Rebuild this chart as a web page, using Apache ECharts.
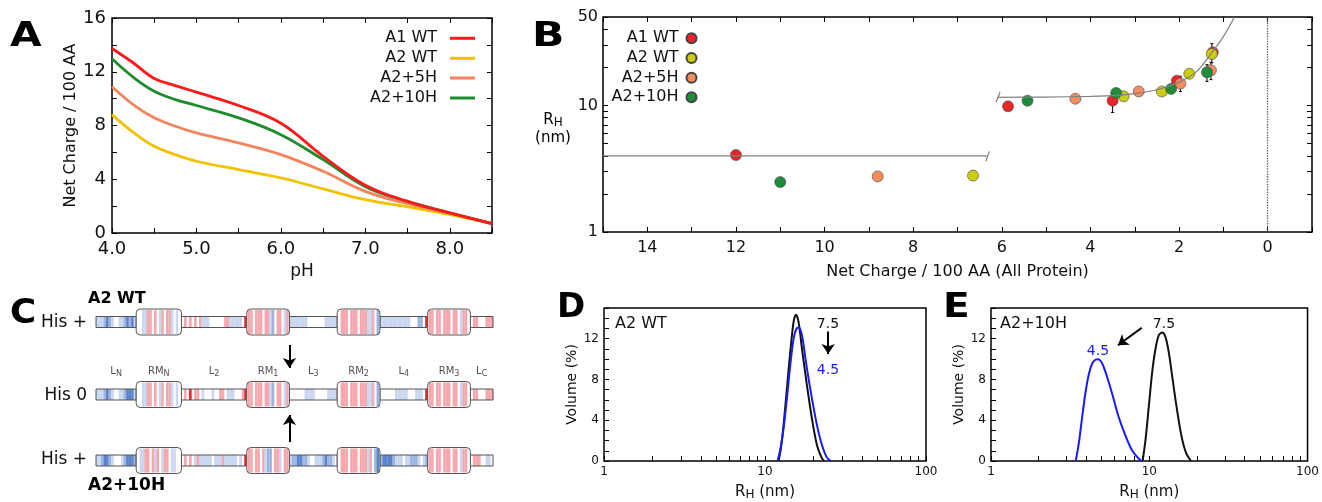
<!DOCTYPE html>
<html><head><meta charset="utf-8">
<script src="https://cdn.jsdelivr.net/npm/echarts@6/dist/echarts.min.js"></script>
<style>html,body{margin:0;padding:0;background:#fff}#c{width:1322px;height:502px}</style>
</head><body><div id="c"></div>
<script>
const FONT = 'DejaVu Sans, Verdana, sans-serif';
const BOLDF = 'DejaVu Sans, Arial, sans-serif';

// ---------- Panel A : net charge vs pH ----------
const pH = [4.0, 4.25, 4.5, 4.75, 5.0, 5.5, 6.0, 6.5, 7.0, 7.5, 8.0, 8.5];
const chargeA1WT   = [13.73, 12.67, 11.5, 10.97, 10.48, 9.49, 8.17, 5.71, 3.56, 2.35, 1.49, 0.7];
const chargeA2WT   = [8.81, 7.5, 6.45, 5.83, 5.34, 4.72, 4.1, 3.28, 2.48, 1.94, 1.37, 0.7];
const chargeA2_5H  = [10.88, 9.56, 8.57, 7.94, 7.45, 6.7, 5.83, 4.59, 3.1, 2.18, 1.47, 0.7];
const chargeA2_10H = [12.96, 11.6, 10.55, 9.93, 9.49, 8.57, 7.32, 5.46, 3.45, 2.35, 1.5, 0.7];
const namesA = ['A1 WT', 'A2 WT', 'A2+5H', 'A2+10H'];
const colorsA = ['#ff1a1a', '#f2c200', '#f5845c', '#1f8a2e'];

// ---------- Panel B : R_H vs net charge ----------
const qA1WT = [12.0, 5.86, 3.50, 2.05, 1.24];
const rA1WT = [4.06, 9.84, 10.9, 15.7, 26.3];
const loA1WT = [3.9, 9.3, 8.8, 15.0, 25.3];
const hiA1WT = [4.2, 10.4, 12.9, 16.6, 27.3];
const qA2WT = [6.65, 3.25, 2.39, 1.77, 1.26];
const rA2WT = [2.79, 11.8, 12.9, 17.8, 25.5];
const loA2WT = [2.75, 11.1, 12.4, 17.3, 21.7];
const hiA2WT = [2.83, 12.6, 13.4, 18.3, 30.8];
const qA2_5H = [8.8, 4.34, 2.91, 1.97, 1.28];
const rA2_5H = [2.75, 11.3, 12.9, 14.9, 18.95];
const loA2_5H = [2.68, 11.1, 12.2, 12.9, 16.0];
const hiA2_5H = [2.83, 11.5, 13.6, 17.0, 21.9];
const qA2_10H = [11.0, 5.42, 3.42, 2.18, 1.37];
const rA2_10H = [2.48, 10.9, 12.56, 13.5, 18.3];
const loA2_10H = [2.40, 10.3, 12.3, 13.0, 15.5];
const hiA2_10H = [2.56, 11.5, 12.8, 14.1, 21.0];
const colorsB = ['#e8262a', '#cccc10', '#f58c5c', '#1f8c3c'];
// fitted guide lines
const fitLowQ = [15, 6.32];
const fitLowR = [4.0, 4.0];
const fitHighQ = [6.1, 5, 4, 3.4, 3, 2.5, 2, 1.6, 1.25, 1.0, 0.75];
const fitHighR = [11.6, 11.65, 11.8, 12.0, 12.4, 13.3, 15.3, 18.6, 26.5, 35, 50];
const breakLowQ = [6.36, 6.28];
const breakLowR = [3.62, 4.34];
const breakHighQ = [6.13, 6.04];
const breakHighR = [10.6, 12.7];
const bLogTicks = [1,2,3,4,5,6,7,8,9,10,20,30,40,50];
const bLogLabels = [1, 10, 50];

// ---------- Panel C : sequence schematic ----------
const segMain = ['L','RM','L','RM','L','RM','L','RM','L'];
const segSub  = ['N','N','2','1','3','2','4','3','C'];
const segLens = [16, 18, 26, 17, 19, 17, 19, 17, 9];
const segIsRM = [0, 1, 0, 1, 0, 1, 0, 1, 0];
const rowLabels = ['His +', 'His 0', 'His +'];
const rowPos = [22, 94.5, 160.5];
const labelRowPos = 71.7;
const stripeRow0 = ['lllmdmlwwllmdmdl','wwllppwpwlpwpplwlw','wpwpwpwplllwwwwwwpplllllwr','ppwpppwpplmwppwlp','lllllllwwwwwwwlllll','wpppwpppwpppllpwm','llllllllllllwwwmmwr','ppwppwpppwppwlppw','wppwwwppp'];
const stripeRow1 = ['lllmdmlwwllmdddl','wwllppwpwlpwpplwlw','wpwrwppwlwwwlwwppwlllwwwpr','ppwpppwpplmwppwlp','wwwwwwllllwwwwwllll','wpppwpppwpppllpwm','wwwwwwlllllwwwlllwr','ppwppwpppwppwlppw','wppwwwppp'];
const stripeRow2 = ['llmddmlwwwlmdddm','wllppwplpwlppwllww','wpwpwlplllllwlllplllllwlwr','ppwppwplmmwpplwpp','lmmddmmlwwlllmdmmlw','wpppwpppwppplpwmd','mddddmlllwllmmmlwlm','ppwppwpppwppwlppw','wpppwwllw'];
const stripeRows = [stripeRow0, stripeRow1, stripeRow2];
const stripeColors = {w:'#ffffff', l:'#c9d7f0', m:'#9db4e0', d:'#5b83c9', p:'#f6a8ae', r:'#e8262b'};
const arrowDown = [[77, 45], [77, 68]];
const arrowUp = [[77, 142], [77, 115]];

// ---------- Panel D / E : DLS distributions ----------
const dBlackR = [12.14,12.55,13.04,13.68,14.35,15.05,15.56,16.16,16.96,18.21,19.56,21.02,22.58,23.34];
const dBlackV = [0,1.24,3.52,7.11,10.7,13.64,14.35,13.64,11.03,7.44,4.18,1.57,0.26,0];
const dBlueR = [11.96,12.43,13.04,13.68,14.35,15.05,15.63,16.16,16.96,18.21,19.56,21.02,22.58,24.26,25.69];
const dBlueV = [0,1.08,3.2,6.14,9.4,12.0,12.92,13.08,12.33,9.07,6.14,3.52,1.57,0.33,0];
const eBlueR = [3.43,3.60,3.78,3.96,4.16,4.36,4.58,4.75,5.04,5.41,5.82,6.40,7.05,7.76,8.54,8.96];
const eBlueV = [0,1.9,4.5,6.79,8.58,9.56,9.95,9.98,9.56,8.26,6.62,4.34,2.54,1.08,0.26,0];
const eBlackR = [9.08,9.49,9.95,10.44,10.96,11.49,12.06,12.65,13.27,13.93,14.82,15.93,17.12,18.39];
const eBlackV = [0,2.22,5.48,8.75,11.03,12.33,12.59,12.17,10.7,8.41,5.48,2.54,0.75,0];
const dlsTicks = [1,2,3,4,5,6,7,8,9,10,20,30,40,50,60,70,80,90,100];
const dlsLabels = [1, 10, 100];
const dArrow = [[24.7, 12.7], [24.7, 10.5]];
const eArrow = [[8.95, 13.05], [6.34, 11.35]];

// ---------- helpers ----------
const zip = (a, b) => a.map((v, i) => [v, b[i]]);
const zip3 = (a, b, c) => a.map((v, i) => [v, b[i], c[i]]);
const tickStyle = {inside: true, length: 5, lineStyle: {color: '#000', width: 1}};
const noLine = {show: false, onZero: false};
function txt(x, y, text, font, fill, align, extra) {
  return Object.assign({type: 'text', x: x, y: y, silent: true, z: 100,
    style: {text: text, font: font, fill: fill || '#111', align: align || 'left', textAlign: align || 'left',
            verticalAlign: 'middle', textVerticalAlign: 'middle'}}, extra || {});
}
function renderErr(params, api) {
  const x = api.value(0), lo = api.value(1), hi = api.value(2);
  const a = api.coord([x, lo]), b = api.coord([x, hi]);
  const st = {stroke: '#000', lineWidth: 1};
  return {type: 'group', children: [
    {type: 'line', shape: {x1: a[0], y1: a[1], x2: b[0], y2: b[1]}, style: st},
    {type: 'line', shape: {x1: a[0] - 1.5, y1: a[1], x2: a[0] + 1.5, y2: a[1]}, style: st},
    {type: 'line', shape: {x1: b[0] - 1.5, y1: b[1], x2: b[0] + 1.5, y2: b[1]}, style: st}
  ]};
}
// segments data for panel C
const segStart = [];
segLens.reduce((acc, l, i) => { segStart[i] = acc; return acc + l; }, 0);
const segData = [];
[0, 1].forEach(rm => {
  for (let r = 0; r < 3; r++) for (let g = 0; g < segLens.length; g++) {
    if (segIsRM[g] === rm) segData.push([segStart[g], segStart[g] + segLens[g], r, g]);
  }
});
function renderSeg(params, api) {
  const s = api.value(0), e = api.value(1), r = api.value(2), g = api.value(3);
  const rm = segIsRM[g];
  const p0 = api.coord([s, rowPos[r]]), p1 = api.coord([e, rowPos[r]]);
  const h = rm ? 26 : 11;
  const x0 = p0[0], x1 = p1[0], yc = p0[1];
  const str = stripeRows[r][g];
  const inset = rm ? 1 : 0;
  const w = (x1 - x0 - 2 * inset) / str.length;
  const children = [{type: 'rect', shape: {x: x0, y: yc - h / 2, width: x1 - x0, height: h, r: rm ? 4 : 0}, style: {fill: '#fff'}}];
  for (let i = 0; i < str.length; i++) {
    if (str[i] === 'w') continue;
    children.push({type: 'rect', shape: {x: x0 + inset + i * w, y: yc - h / 2 + inset, width: w + 0.2, height: h - 2 * inset},
      style: {fill: stripeColors[str[i]]}});
  }
  children.push({type: 'rect', shape: {x: x0, y: yc - h / 2, width: x1 - x0, height: h, r: rm ? 4 : 0},
    style: {fill: 'none', stroke: '#555', lineWidth: 1}});
  return {type: 'group', children: children};
}
const segCenters = segLens.map((l, i) => [segStart[i] + l / 2, labelRowPos]);

const chart = echarts.init(document.getElementById('c'), null, {renderer: 'canvas'});

const legendsA = namesA.map((n, i) => ({
  data: [n], orient: 'vertical', align: 'right', right: 847, top: [39.3, 59.3, 79, 99][i] - 9, padding: 0,
  icon: 'rect', itemWidth: 25, itemHeight: 3, selectedMode: false,
  textStyle: {fontFamily: FONT, fontSize: 16, color: '#111', padding: [0, 8, 0, 0]}
}));
const namesB = namesA.map(n => n + '\u200b');
const legendsB = namesB.map((n, i) => ({
  data: [n], orient: 'vertical', align: 'right', right: 624.5, top: [39.3, 59, 78.7, 98.3][i] - 9, padding: 0,
  itemWidth: 10, itemHeight: 10, selectedMode: false,
  textStyle: {fontFamily: FONT, fontSize: 16, color: '#111', padding: [0, 3, 0, 0]}
}));

const bSets = [[qA1WT, rA1WT, loA1WT, hiA1WT], [qA2WT, rA2WT, loA2WT, hiA2WT], [qA2_5H, rA2_5H, loA2_5H, hiA2_5H], [qA2_10H, rA2_10H, loA2_10H, hiA2_10H]];
const bSeries = [];
bSets.forEach((s, i) => {
  bSeries.push({type: 'scatter', name: namesB[i], xAxisIndex: 2, yAxisIndex: 2, data: zip(s[0], s[1]), symbol: 'circle', symbolSize: 11,
    itemStyle: {color: colorsB[i], borderColor: '#444', borderWidth: 0.6, opacity: 1}});
  bSeries.push({type: 'custom', name: 'err' + i, xAxisIndex: 2, yAxisIndex: 2, data: zip3(s[0], s[2], s[3]), renderItem: renderErr, silent: true});
});

const subRich = {m: {fontSize: 10, color: '#222', fontFamily: FONT, lineHeight: 13}, s: {fontSize: 8, color: '#222', fontFamily: FONT, lineHeight: 8, verticalAlign: 'bottom'}};
const rhRich = {r: {fontSize: 15, fontFamily: FONT, color: '#111', lineHeight: 18}, s: {fontSize: 12, fontFamily: FONT, color: '#111', lineHeight: 10, verticalAlign: 'bottom'}};

const option = {
  animation: false,
  backgroundColor: '#fff',
  textStyle: {fontFamily: FONT},
  legend: legendsA.concat(legendsB),
  grid: [
    {left: 112, top: 18, width: 380, height: 215, show: true, borderColor: '#000', borderWidth: 1.5},
    {left: 603, top: 17, width: 709, height: 215, show: true, borderColor: '#000', borderWidth: 1.5},
    {left: 96, top: 300, width: 397, height: 200},
    {left: 604, top: 308, width: 322, height: 155, show: true, borderColor: '#000', borderWidth: 1.5},
    {left: 991, top: 308, width: 320, height: 155, show: true, borderColor: '#000', borderWidth: 1.5}
  ],
  xAxis: [
    {type: 'value', gridIndex: 0, min: 4, max: 8.5, interval: 0.5, axisLine: noLine, axisTick: tickStyle, splitLine: {show: false},
     axisLabel: {fontSize: 18, margin: 7, color: '#111', formatter: v => Math.abs(v - Math.round(v)) < 1e-6 ? v.toFixed(1) : ''},
     name: 'pH', nameLocation: 'middle', nameGap: 30, nameTextStyle: {fontSize: 17, color: '#111'}},
    {type: 'value', gridIndex: 0, position: 'top', min: 4, max: 8.5, interval: 0.5, axisLine: noLine, axisTick: tickStyle, axisLabel: {show: false}, splitLine: {show: false}},
    {type: 'value', gridIndex: 1, inverse: true, min: -1, max: 15, interval: 1, axisLine: noLine, axisTick: tickStyle, splitLine: {show: false},
     axisLabel: {fontSize: 16, margin: 8, color: '#111', formatter: v => (v >= 0 && v % 2 === 0) ? String(v) : ''},
     name: 'Net Charge / 100 AA (All Protein)', nameLocation: 'middle', nameGap: 32, nameTextStyle: {fontSize: 16, color: '#111'}},
    {type: 'value', gridIndex: 1, inverse: true, position: 'top', min: -1, max: 15, interval: 1, axisLine: noLine, axisTick: tickStyle, axisLabel: {show: false}, splitLine: {show: false}},
    {type: 'value', gridIndex: 2, min: 0, max: 158, show: false},
    {type: 'log', gridIndex: 3, logBase: 10, min: 1, max: 100, axisLine: noLine, splitLine: {show: false}, minorTick: {show: false},
     axisTick: Object.assign({customValues: dlsTicks}, tickStyle),
     axisLabel: {customValues: dlsLabels, fontSize: 12, margin: 5, color: '#111'},
     name: '{r|R}{s|H}{r| (nm)}', nameLocation: 'middle', nameGap: 22, nameTextStyle: {rich: rhRich}},
    {type: 'log', gridIndex: 4, logBase: 10, min: 1, max: 100, axisLine: noLine, splitLine: {show: false}, minorTick: {show: false},
     axisTick: Object.assign({customValues: dlsTicks}, tickStyle),
     axisLabel: {customValues: dlsLabels, fontSize: 12, margin: 5, color: '#111'},
     name: '{r|R}{s|H}{r| (nm)}', nameLocation: 'middle', nameGap: 22, nameTextStyle: {rich: rhRich}}
  ],
  yAxis: [
    {type: 'value', gridIndex: 0, min: 0, max: 16, interval: 2, axisLine: noLine, axisTick: tickStyle, splitLine: {show: false},
     axisLabel: {fontSize: 18, margin: 6, color: '#111', formatter: v => v % 4 === 0 ? String(v) : ''},
     name: 'Net Charge / 100 AA', nameLocation: 'middle', nameGap: 32, nameTextStyle: {fontSize: 16, color: '#111'}},
    {type: 'value', gridIndex: 0, position: 'right', min: 0, max: 16, interval: 2, axisLine: noLine, axisTick: tickStyle, axisLabel: {show: false}, splitLine: {show: false}},
    {type: 'log', gridIndex: 1, logBase: 10, min: 1, max: 50, axisLine: noLine, splitLine: {show: false}, minorTick: {show: false},
     axisTick: Object.assign({customValues: bLogTicks}, tickStyle),
     axisLabel: {customValues: bLogLabels, fontSize: 16, margin: 5, color: '#111'}},
    {type: 'log', gridIndex: 1, position: 'right', logBase: 10, min: 1, max: 50, axisLine: noLine, splitLine: {show: false}, minorTick: {show: false},
     axisTick: Object.assign({customValues: bLogTicks}, tickStyle), axisLabel: {show: false}},
    {type: 'value', gridIndex: 2, inverse: true, min: 0, max: 200, show: false},
    {type: 'value', gridIndex: 3, min: 0, max: 15, interval: 1, axisLine: noLine, axisTick: tickStyle, splitLine: {show: false},
     axisLabel: {fontSize: 12, margin: 5, color: '#111', formatter: v => v % 4 === 0 ? String(v) : ''},
     name: 'Volume (%)', nameLocation: 'middle', nameGap: 20, nameTextStyle: {fontSize: 14, color: '#111'}},
    {type: 'value', gridIndex: 4, min: 0, max: 15, interval: 1, axisLine: noLine, axisTick: tickStyle, splitLine: {show: false},
     axisLabel: {fontSize: 12, margin: 5, color: '#111', formatter: v => v % 4 === 0 ? String(v) : ''},
     name: 'Volume (%)', nameLocation: 'middle', nameGap: 22, nameTextStyle: {fontSize: 14, color: '#111'}}
  ],
  series: [
    // Panel A
    ...[chargeA1WT, chargeA2WT, chargeA2_5H, chargeA2_10H].map((d, i) => ({
      type: 'line', name: namesA[i], xAxisIndex: 0, yAxisIndex: 0, data: zip(pH, d), smooth: 0.4, symbol: 'none',
      lineStyle: {color: colorsA[i], width: 2.8}, itemStyle: {color: colorsA[i]}, z: 3 + (i === 0 ? 1 : 0)
    })),
    // Panel B guides
    {type: 'line', name: 'fitLow', xAxisIndex: 2, yAxisIndex: 2, data: zip(fitLowQ, fitLowR), symbol: 'none', lineStyle: {color: '#808080', width: 1.2}, silent: true,
     markLine: {silent: true, symbol: 'none', label: {show: false}, lineStyle: {type: 'dotted', color: '#555', width: 1.3}, data: [{xAxis: 0}]}},
    {type: 'line', name: 'fitHigh', xAxisIndex: 2, yAxisIndex: 2, data: zip(fitHighQ, fitHighR), smooth: 0.3, symbol: 'none', lineStyle: {color: '#808080', width: 1.2}, silent: true},
    {type: 'line', name: 'brk1', xAxisIndex: 2, yAxisIndex: 2, data: zip(breakLowQ, breakLowR), symbol: 'none', lineStyle: {color: '#808080', width: 1.2}, silent: true},
    {type: 'line', name: 'brk2', xAxisIndex: 2, yAxisIndex: 2, data: zip(breakHighQ, breakHighR), symbol: 'none', lineStyle: {color: '#808080', width: 1.2}, silent: true},
    ...bSeries,
    // Panel C
    {type: 'custom', name: 'segments', xAxisIndex: 4, yAxisIndex: 4, data: segData, renderItem: renderSeg, silent: true, clip: false},
    {type: 'scatter', name: 'regions', xAxisIndex: 4, yAxisIndex: 4, data: segCenters, symbolSize: 0, silent: true,
     label: {show: true, position: 'inside', formatter: p => '{m|' + segMain[p.dataIndex] + '}{s|' + segSub[p.dataIndex] + '}', rich: subRich},
     markLine: {silent: true, symbol: ['none', 'arrow'], symbolSize: 10, label: {show: false}, lineStyle: {color: '#000', width: 2, type: 'solid'},
       data: [[{coord: arrowDown[0]}, {coord: arrowDown[1]}], [{coord: arrowUp[0]}, {coord: arrowUp[1]}]]}},
    // Panel D
    {type: 'line', name: 'D pH 7.5', xAxisIndex: 5, yAxisIndex: 5, data: zip(dBlackR, dBlackV), smooth: 0.3, symbol: 'none', lineStyle: {color: '#111', width: 2},
     markLine: {silent: true, symbol: ['none', 'arrow'], symbolSize: 10, label: {show: false}, lineStyle: {color: '#000', width: 2, type: 'solid'},
       data: [[{coord: dArrow[0]}, {coord: dArrow[1]}]]}},
    {type: 'line', name: 'D pH 4.5', xAxisIndex: 5, yAxisIndex: 5, data: zip(dBlueR, dBlueV), smooth: 0.3, symbol: 'none', lineStyle: {color: '#1a1aff', width: 2}},
    // Panel E
    {type: 'line', name: 'E pH 7.5', xAxisIndex: 6, yAxisIndex: 6, data: zip(eBlackR, eBlackV), smooth: 0.3, symbol: 'none', lineStyle: {color: '#111', width: 2},
     markLine: {silent: true, symbol: ['none', 'arrow'], symbolSize: 10, label: {show: false}, lineStyle: {color: '#000', width: 2, type: 'solid'},
       data: [[{coord: eArrow[0]}, {coord: eArrow[1]}]]}},
    {type: 'line', name: 'E pH 4.5', xAxisIndex: 6, yAxisIndex: 6, data: zip(eBlueR, eBlueV), smooth: 0.3, symbol: 'none', lineStyle: {color: '#1a1aff', width: 2}}
  ],
  graphic: [
    txt(10, 37, 'A', 'bold 34px ' + BOLDF, '#000', 'left', {scaleX: 1.2}),
    txt(532, 37, 'B', 'bold 34px ' + BOLDF, '#000', 'left', {scaleX: 1.25}),
    txt(10, 314, 'C', 'bold 34px ' + BOLDF, '#000', 'left', {scaleX: 1.05}),
    txt(557, 308, 'D', 'bold 34px ' + BOLDF, '#000', 'left'),
    txt(943, 308, 'E', 'bold 34px ' + BOLDF, '#000', 'left', {scaleX: 1.15}),
    {type: 'text', x: 553, y: 129, silent: true, z: 100,
     style: {text: '{r|R}{s|H}\n{r|(nm)}', align: 'center', textAlign: 'center', verticalAlign: 'middle', textVerticalAlign: 'middle', rich: rhRich}},
    txt(88, 299, 'A2 WT', 'bold 16px ' + FONT, '#000'),
    txt(88, 486, 'A2+10H', 'bold 17px ' + FONT, '#000'),
    txt(87, 323, rowLabels[0], '17px ' + FONT, '#111', 'right'),
    txt(87, 396, rowLabels[1], '17px ' + FONT, '#111', 'right'),
    txt(87, 460, rowLabels[2], '17px ' + FONT, '#111', 'right'),
    txt(615, 324, 'A2 WT', '16px ' + FONT, '#111'),
    txt(828, 324, '7.5', '14px ' + FONT, '#111', 'center'),
    txt(828, 370, '4.5', '14px ' + FONT, '#1a1aff', 'center'),
    txt(1000, 324, 'A2+10H', '16px ' + FONT, '#111'),
    txt(1164, 324, '7.5', '14px ' + FONT, '#111', 'center'),
    txt(1098, 351, '4.5', '14px ' + FONT, '#1a1aff', 'center')
  ]
};
chart.setOption(option);
</script>
</body></html>
